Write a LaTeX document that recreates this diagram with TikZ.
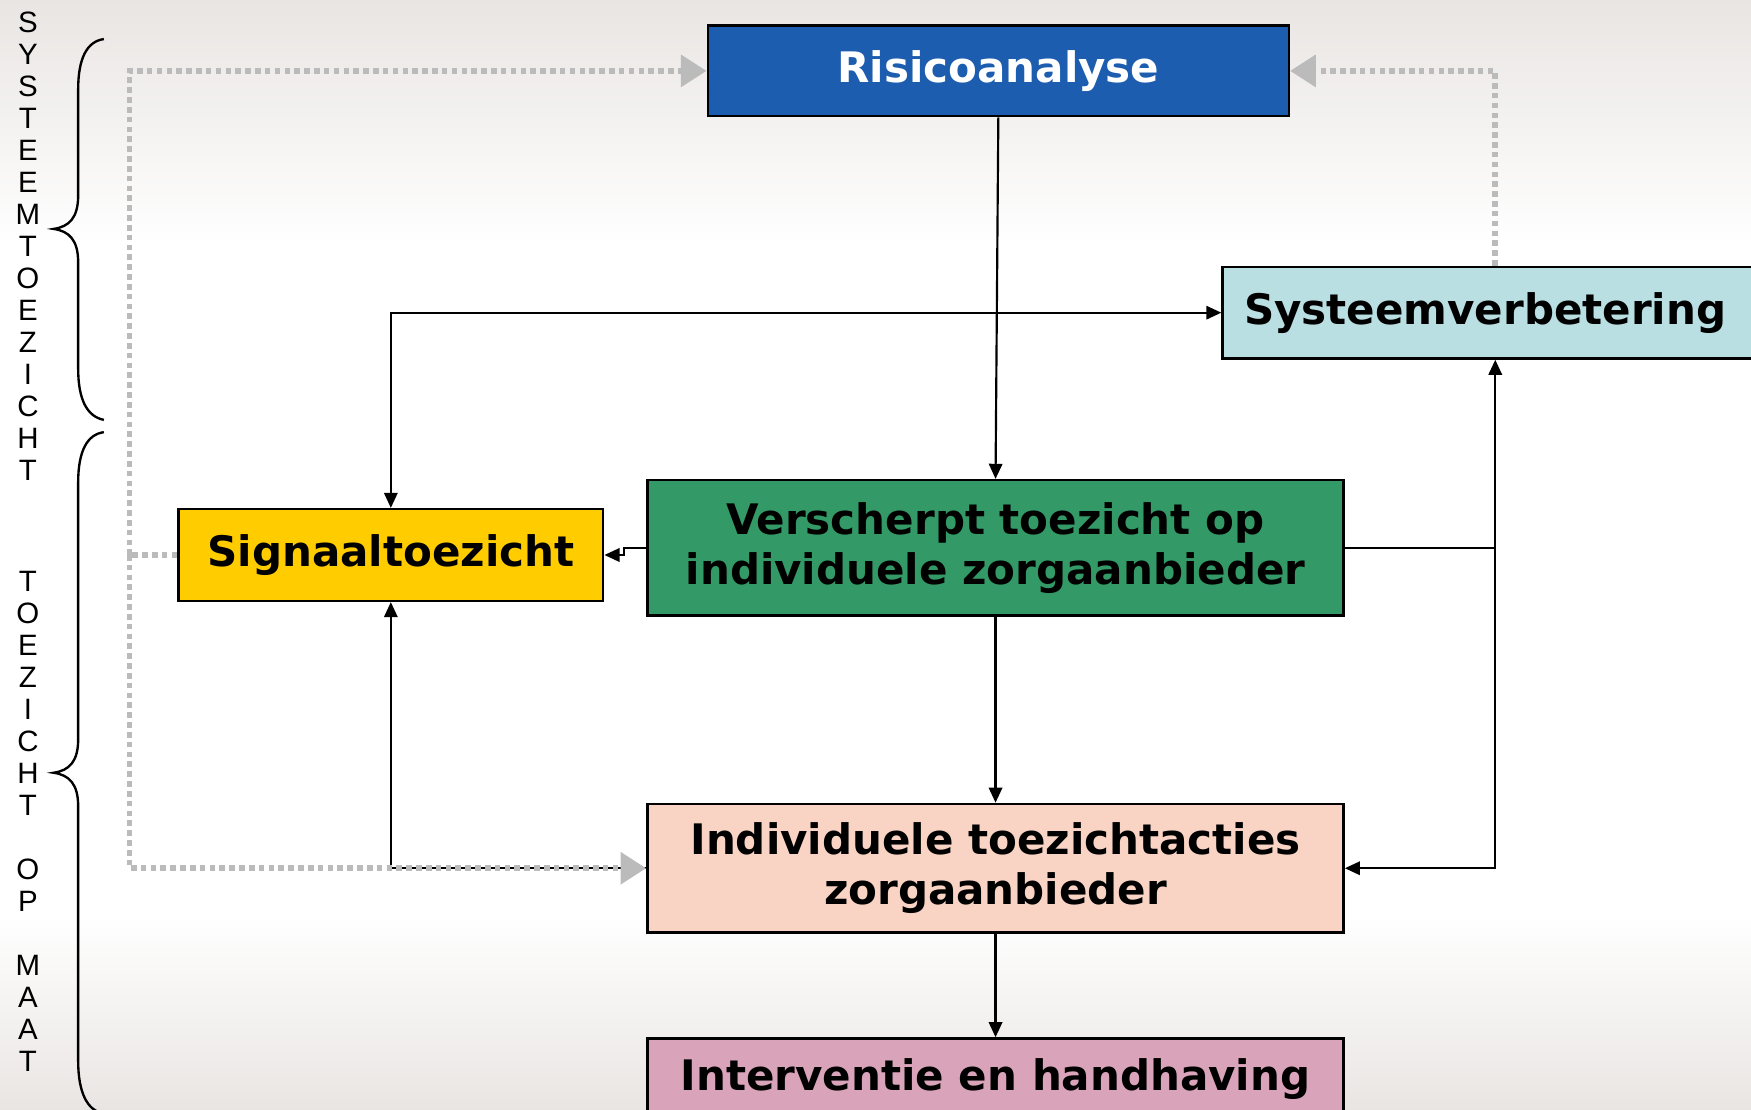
\documentclass[tikz,border=0pt]{standalone}
\usepackage{fontspec}
\usetikzlibrary{arrows.meta,calc}
\newfontfamily\dvsans{DejaVu Sans}
\newfontfamily\libsans{Liberation Sans}
\definecolor{rblue}{HTML}{1C5DAF}
\definecolor{scyan}{HTML}{B9DFE3}
\definecolor{syellow}{HTML}{FFCC00}
\definecolor{vgreen}{HTML}{339966}
\definecolor{ipink}{HTML}{F9D4C5}
\definecolor{imauve}{HTML}{D9A3BA}
\definecolor{dgray}{HTML}{BBBBBB}
\definecolor{bgtop}{HTML}{E9E5E3}
\begin{document}
\begin{tikzpicture}[x=0.01cm,y=-0.01cm,
  box/.style={draw=black,line width=0.65pt,inner sep=0pt,align=center,
    font=\dvsans\bfseries\fontsize{10.7}{12.8}\selectfont},
  arr/.style={line width=0.55pt,-{Triangle[length=1.35mm,width=1.2mm]}},
  arrb/.style={line width=0.55pt,{Triangle[length=1.35mm,width=1.2mm]}-{Triangle[length=1.35mm,width=1.2mm]}},
  plainl/.style={line width=0.55pt},
  dotl/.style={draw=dgray,line width=0.5mm,dash pattern=on 0.5mm off 0.38mm},
  dotarr/.style={dotl,-{Triangle[length=2.3mm,width=2.8mm,fill=dgray]}},
  vlab/.style={font=\libsans\fontsize{7.5}{8.15}\selectfont,align=center,inner sep=0pt},
  bracel/.style={line width=0.6pt}]

\useasboundingbox (0,0) rectangle (1568,994);
\clip (0,0) rectangle (1568,994);
\fill[white] (0,0) rectangle (1568,994);
\shade[top color=bgtop,bottom color=white] (0,0) rectangle (1568,220);
\shade[top color=white,bottom color=bgtop] (0,820) rectangle (1568,994);

% boxes
\node[box,fill=rblue,text=white,minimum width=5.2cm,minimum height=0.81cm] (risico) at (894,63.5) {Risicoanalyse};
\node[box,fill=scyan,minimum width=4.85cm,minimum height=0.82cm] (systeem) at (1337.5,280) {\hspace*{-0.15cm}Systeemverbetering};
\node[box,fill=syellow,minimum width=3.8cm,minimum height=0.82cm] (signaal) at (350,497) {Signaaltoezicht};
\node[box,fill=vgreen,minimum width=6.23cm,minimum height=1.21cm] (versch) at (891.5,490.5) {Verscherpt toezicht op\\individuele zorgaanbieder};
\node[box,fill=ipink,minimum width=6.23cm,minimum height=1.15cm] (indiv) at (891.5,777.5) {Individuele toezichtacties\\zorgaanbieder};
\node[box,fill=imauve,minimum width=6.23cm,minimum height=0.72cm] (interv) at (891.5,966) {Interventie en handhaving};

% black connectors
\draw[arr] (risico.south) -- (versch.north);
\draw[arrb] (signaal.north) |- (systeem.west);
\draw[arr] (versch.west) -- ++(-20,0) |- (signaal.east);
\coordinate (jr) at (1339,490.5);
\draw[plainl] (versch.east) -- (jr);
\draw[arr] (jr) -- (jr |- systeem.south);
\draw[arr] (jr) |- (indiv.east);
\draw[arr] (versch.south) -- (indiv.north);
\draw[arr] (indiv.south) -- (interv.north);
\draw[arr] (indiv.west) -| (signaal.south);

% grey dotted connectors
\coordinate (jl) at (116,497);
\draw[dotl] (signaal.west) -- (jl);
\draw[dotarr] (jl) |- (risico.west);
\draw[dotarr] (jl) |- (indiv.west);
\draw[dotarr] (jr |- systeem.north) |- (risico.east);

% side labels
\node[vlab] (lab1) at (25,220.5) {S\\Y\\S\\T\\E\\E\\M\\T\\O\\E\\Z\\I\\C\\H\\T};
\node[vlab] (lab2) at (25,735.5) {T\\O\\E\\Z\\I\\C\\H\\T\\[8.15pt]O\\P\\[8.15pt]M\\A\\A\\T};

% braces
\draw[bracel] (93,35) .. controls (78,37) and (70,52) .. (70,80) -- (70,175)
  .. controls (70,195) and (62,203) .. (48,205)
  .. controls (62,207) and (70,215) .. (70,235) -- (70,330)
  .. controls (70,358) and (78,373) .. (93,376);
\draw[bracel] (93,387) .. controls (78,389) and (70,404) .. (70,432) -- (70,662)
  .. controls (70,682) and (62,690) .. (48,692)
  .. controls (62,694) and (70,702) .. (70,722) -- (70,950)
  .. controls (70,978) and (78,995) .. (93,997);
\end{tikzpicture}
\end{document}
